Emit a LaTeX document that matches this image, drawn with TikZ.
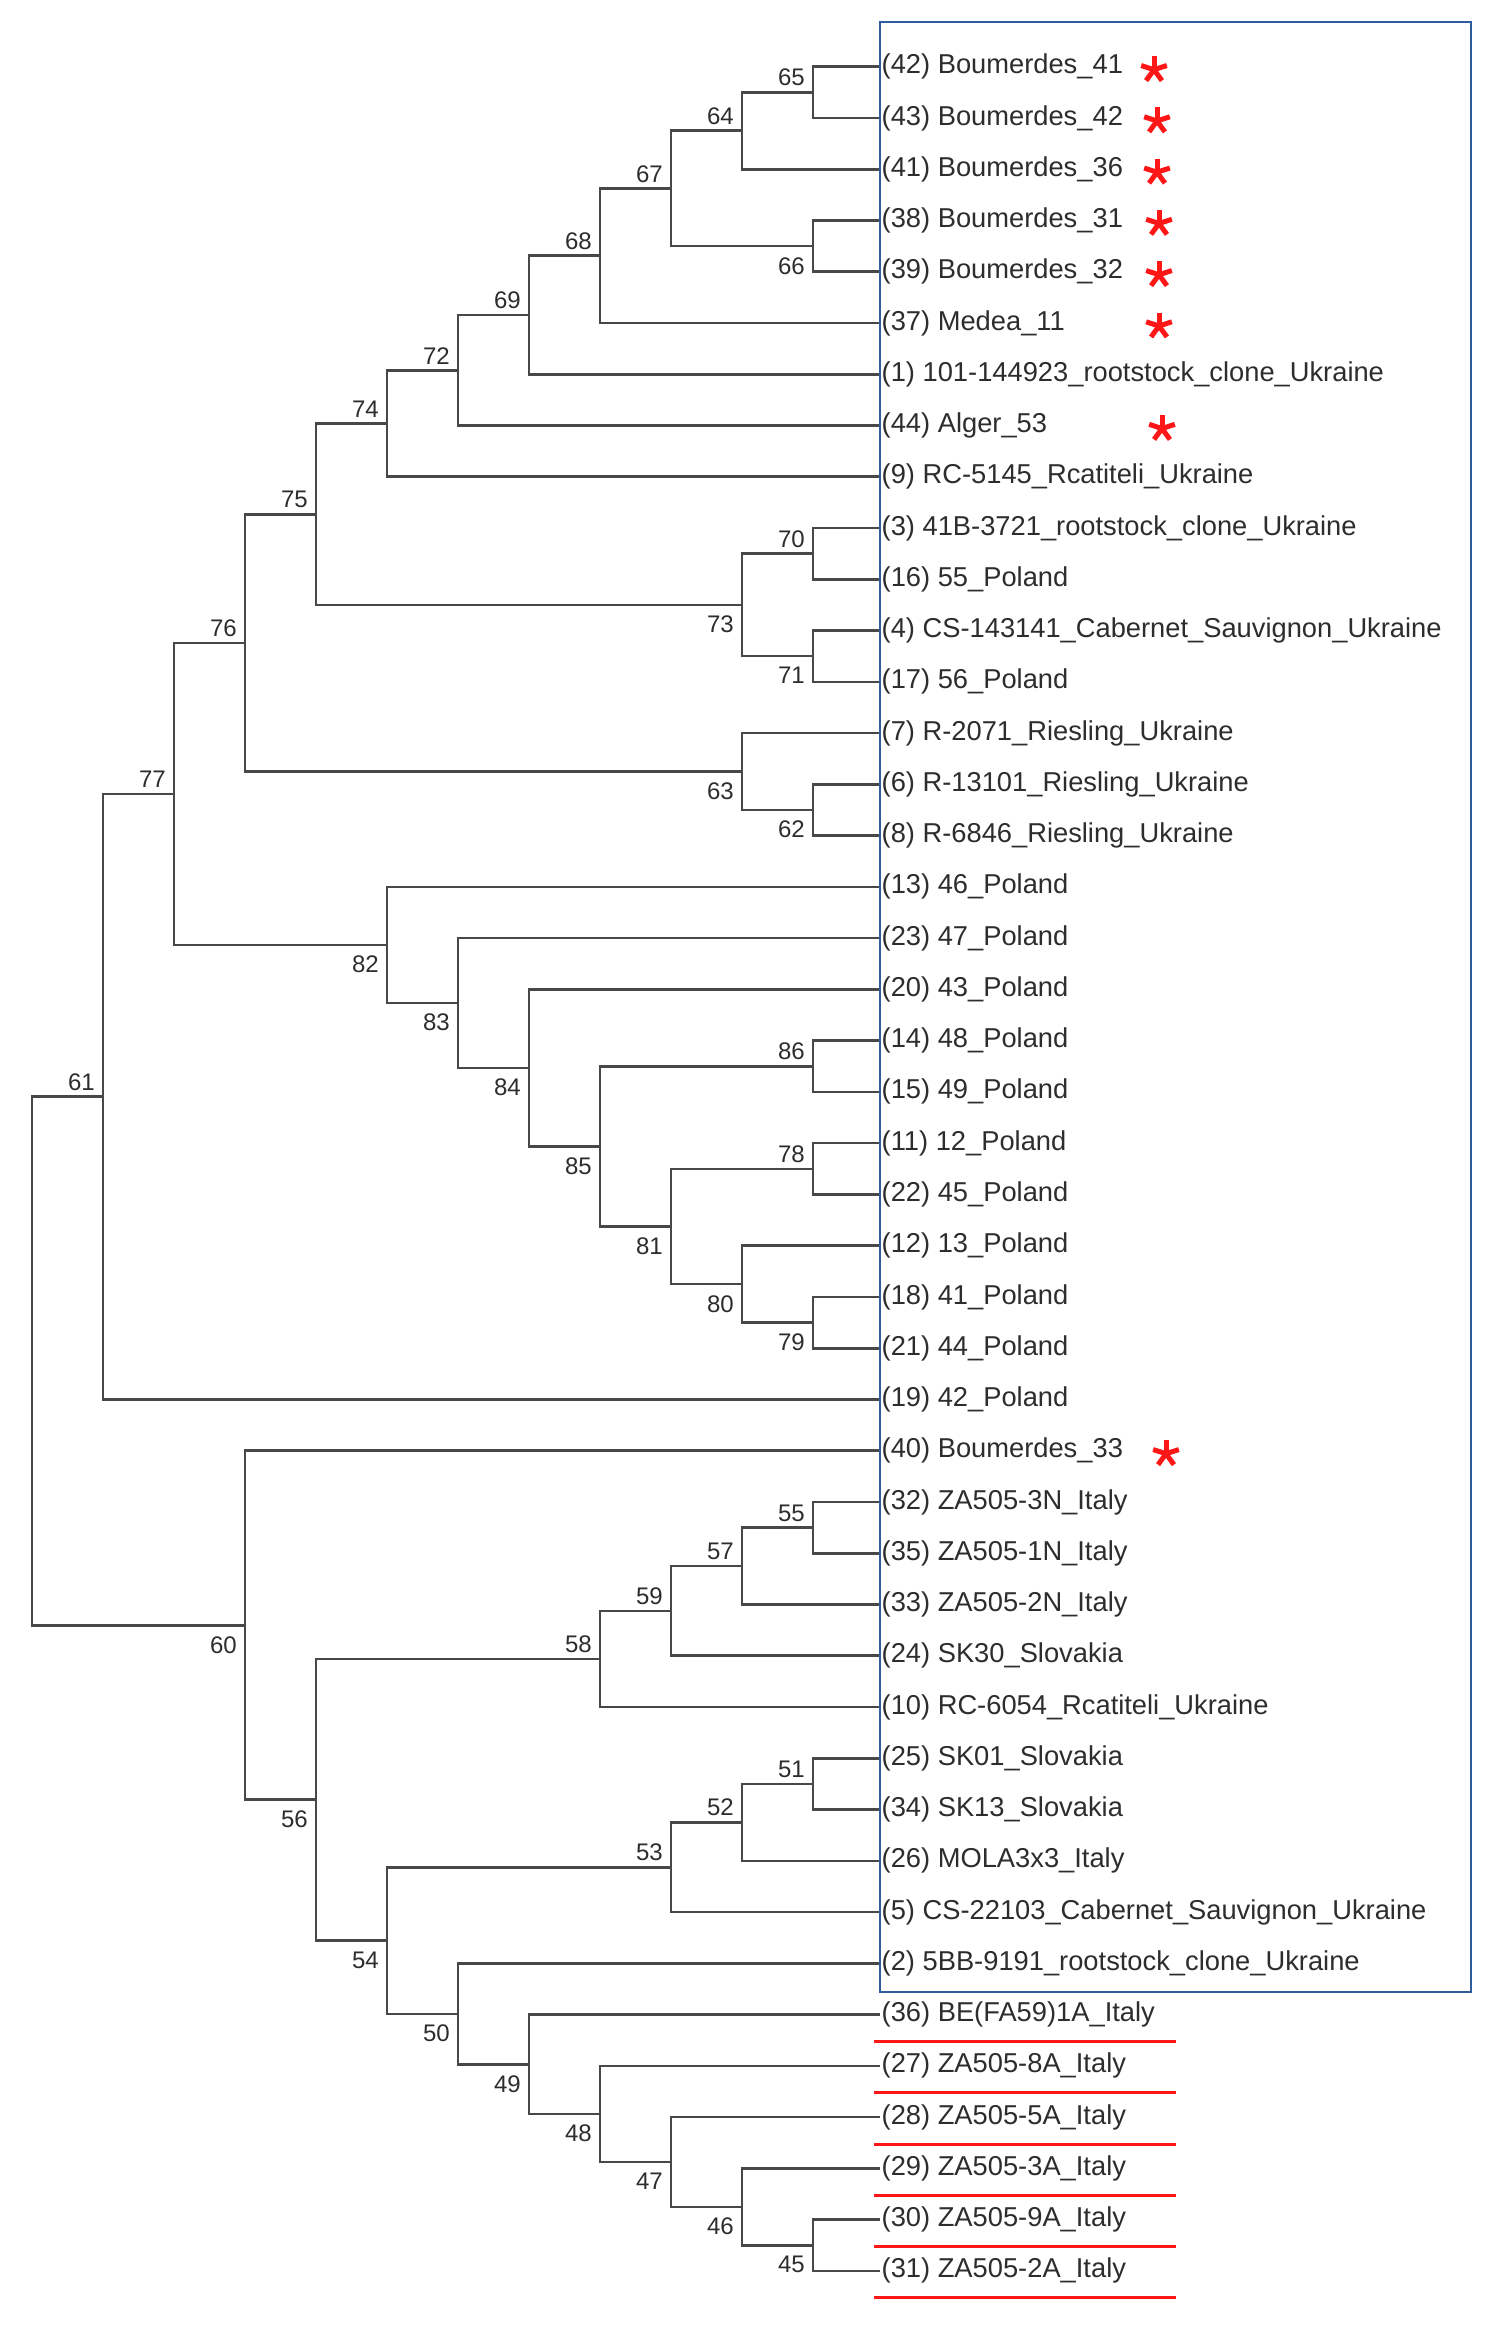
\documentclass[tikz,border=0pt]{standalone}
\usepackage{fontspec}
\setmainfont{Liberation Sans}
\usepackage{tikz}
\usetikzlibrary{calc}
\definecolor{branchgray}{RGB}{72,72,72}
\definecolor{textgray}{RGB}{45,45,45}
\definecolor{boxblue}{RGB}{46,92,158}
\definecolor{markred}{RGB}{255,22,22}
\tikzset{
    branch/.style = {draw=branchgray, line width=2.6pt, line join=miter},
    leaf-label/.style = {anchor=west, inner sep=1.5pt, text=textgray, font=\fontsize{27.3}{30}\selectfont},
    boot-up/.style = {anchor=south east, inner sep=2pt, xshift=-6pt, yshift=4pt, text=textgray, font=\fontsize{24}{28}\selectfont},
    boot-dn/.style = {anchor=north east, inner sep=2pt, xshift=-6pt, yshift=-9pt, text=textgray, font=\fontsize{24}{28}\selectfont},
    group-frame/.style = {draw=boxblue, line width=2pt},
    italy-rule/.style = {draw=markred, line width=3pt},
    red-star/.pic = {\foreach \a in {-90,-18,54,126,198} \draw[draw=markred, line width=5pt] (0,0) -- (\a:13.5);},
}
% one clade: #1 bootstrap value, #2 level, #3 upper child, #4 lower child, #5 label side
\newcommand{\clade}[5]{%
    \path (#3) -- (#4) coordinate[pos=.5] (m#1);
    \coordinate (n#1) at (L#2 |- m#1);
    \draw[branch] (#3) -| (n#1) |- (#4);
    \node[boot-#5] (b#1) at (n#1) {#1};
}

\begin{document}
\begin{tikzpicture}[x=1pt, y=-1pt]
\useasboundingbox[fill=white] (0,0) rectangle (1504,2325);

% depth levels of the tree
\foreach \k in {0,...,11}
    \coordinate (L\k) at ({32+71*\k},0);

% leaves
\foreach \id/\txt [count=\r from 0] in {
    42/Boumerdes\_41, 43/Boumerdes\_42, 41/Boumerdes\_36, 38/Boumerdes\_31,
    39/Boumerdes\_32, 37/Medea\_11, 1/101-144923\_rootstock\_clone\_Ukraine,
    44/Alger\_53, 9/RC-5145\_Rcatiteli\_Ukraine, 3/41B-3721\_rootstock\_clone\_Ukraine,
    16/55\_Poland, 4/CS-143141\_Cabernet\_Sauvignon\_Ukraine, 17/56\_Poland,
    7/R-2071\_Riesling\_Ukraine, 6/R-13101\_Riesling\_Ukraine, 8/R-6846\_Riesling\_Ukraine,
    13/46\_Poland, 23/47\_Poland, 20/43\_Poland, 14/48\_Poland, 15/49\_Poland,
    11/12\_Poland, 22/45\_Poland, 12/13\_Poland, 18/41\_Poland, 21/44\_Poland,
    19/42\_Poland, 40/Boumerdes\_33, 32/ZA505-3N\_Italy, 35/ZA505-1N\_Italy,
    33/ZA505-2N\_Italy, 24/SK30\_Slovakia, 10/RC-6054\_Rcatiteli\_Ukraine,
    25/SK01\_Slovakia, 34/SK13\_Slovakia, 26/MOLA3x3\_Italy,
    5/CS-22103\_Cabernet\_Sauvignon\_Ukraine, 2/5BB-9191\_rootstock\_clone\_Ukraine,
    36/BE(FA59)1A\_Italy, 27/ZA505-8A\_Italy, 28/ZA505-5A\_Italy,
    29/ZA505-3A\_Italy, 30/ZA505-9A\_Italy, 31/ZA505-2A\_Italy}
{
    \coordinate (t\id) at (880,{66.7+51.26*\r});
    \node[leaf-label] (s\id) at (t\id) {(\id) \txt};
}

% upper clade
\clade{65}{11}{t42}{t43}{up}
\clade{64}{10}{n65}{t41}{up}
\clade{66}{11}{t38}{t39}{dn}
\clade{67}{9}{n64}{n66}{up}
\clade{68}{8}{n67}{t37}{up}
\clade{69}{7}{n68}{t1}{up}
\clade{72}{6}{n69}{t44}{up}
\clade{74}{5}{n72}{t9}{up}
\clade{70}{11}{t3}{t16}{up}
\clade{71}{11}{t4}{t17}{dn}
\clade{73}{10}{n70}{n71}{dn}
\clade{75}{4}{n74}{n73}{up}
\clade{62}{11}{t6}{t8}{dn}
\clade{63}{10}{t7}{n62}{dn}
\clade{76}{3}{n75}{n63}{up}
\clade{86}{11}{t14}{t15}{up}
\clade{78}{11}{t11}{t22}{up}
\clade{79}{11}{t18}{t21}{dn}
\clade{80}{10}{t12}{n79}{dn}
\clade{81}{9}{n78}{n80}{dn}
\clade{85}{8}{n86}{n81}{dn}
\clade{84}{7}{t20}{n85}{dn}
\clade{83}{6}{t23}{n84}{dn}
\clade{82}{5}{t13}{n83}{dn}
\clade{77}{2}{n76}{n82}{up}
\clade{61}{1}{n77}{t19}{up}

% lower clade
\clade{55}{11}{t32}{t35}{up}
\clade{57}{10}{n55}{t33}{up}
\clade{59}{9}{n57}{t24}{up}
\clade{58}{8}{n59}{t10}{up}
\clade{51}{11}{t25}{t34}{up}
\clade{52}{10}{n51}{t26}{up}
\clade{53}{9}{n52}{t5}{up}
\clade{45}{11}{t30}{t31}{dn}
\clade{46}{10}{t29}{n45}{dn}
\clade{47}{9}{t28}{n46}{dn}
\clade{48}{8}{t27}{n47}{dn}
\clade{49}{7}{t36}{n48}{dn}
\clade{50}{6}{t2}{n49}{dn}
\clade{54}{5}{n53}{n50}{dn}
\clade{56}{4}{n58}{n54}{dn}
\clade{60}{3}{t40}{n56}{dn}

% root
\path (n61) -- (n60) coordinate[pos=.5] (mroot);
\coordinate (nroot) at (L0 |- mroot);
\draw[branch] (n61) -| (nroot) |- (n60);

% frame round the first group
\draw[group-frame] (880,22) rectangle (1471,1992);

% Algerian samples
\foreach \id/\sx in {42/1154, 43/1157, 41/1157, 38/1159, 39/1159, 37/1159, 44/1162, 40/1166}
    \pic at ($(t\id)+(\sx-880,3)$) {red-star};

% Italian samples
\foreach \id in {36,27,28,29,30,31}
    \draw[italy-rule] ($(t\id)+(-6,27)$) -- ++(302,0);
\end{tikzpicture}
\end{document}
